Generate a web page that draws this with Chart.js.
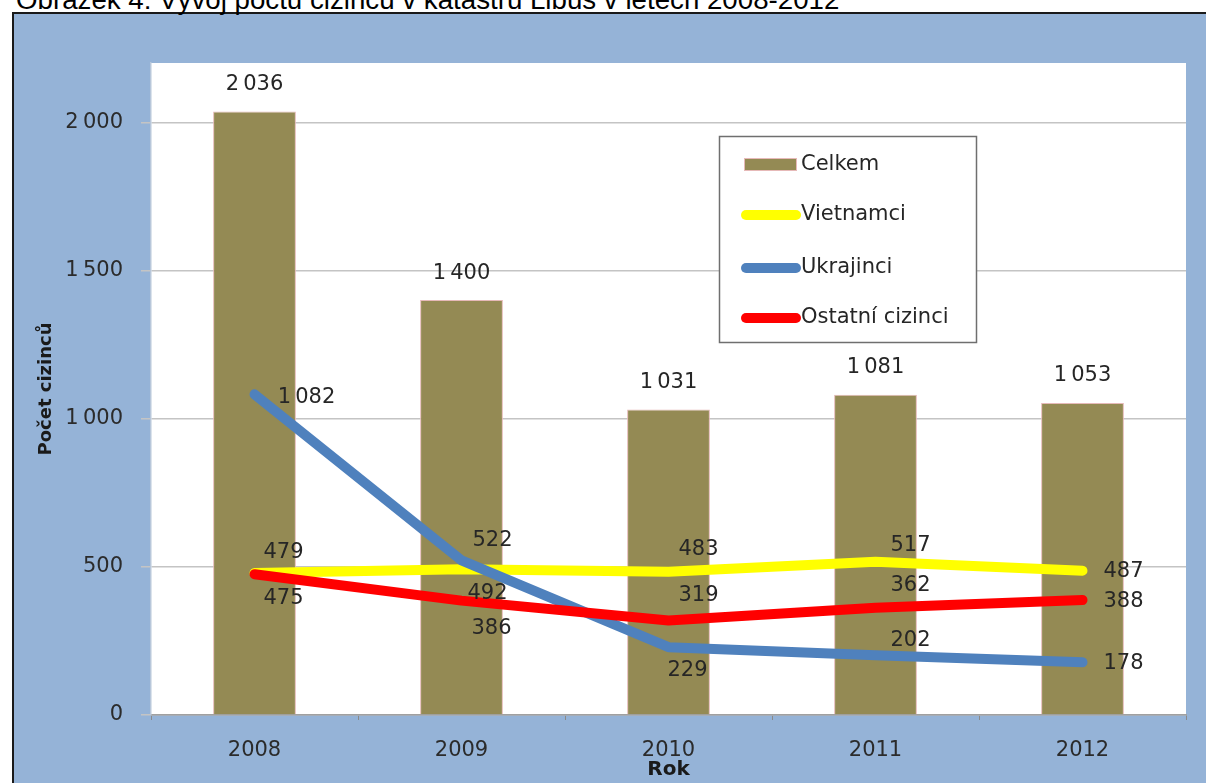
<!DOCTYPE html>
<html><head><meta charset="utf-8">
<script src="https://cdn.jsdelivr.net/npm/chart.js@4/dist/chart.umd.min.js"></script>
<style>
html,body{margin:0;padding:0;background:#fff;overflow:hidden;}
#wrap{position:relative;width:1206px;height:783px;overflow:hidden;}
#frame{position:absolute;left:12px;top:12px;width:1220px;height:800px;border-left:2px solid #1a1a1a;border-top:2px solid #1a1a1a;background:#95b3d7;}
#cap{position:absolute;left:16px;top:-14px;font:27.7px "Liberation Sans",Arial,sans-serif;color:#000;line-height:28px;white-space:nowrap;}
canvas{position:absolute;left:0;top:0;}
</style></head>
<body><div id="wrap"><div id="frame"></div><div id="cap">Obrázek 4: Vývoj počtu cizinců v katastru Libuš v letech 2008-2012</div><canvas id="c" width="1206" height="783"></canvas></div>
<script>
const categories = ['2008', '2009', '2010', '2011', '2012'];
const celkem = [2036, 1400, 1031, 1081, 1053];
const vietnamci = [479, 492, 483, 517, 487];
const ukrajinci = [1082, 522, 229, 202, 178];
const ostatni = [475, 386, 319, 362, 388];
const yTicks = [0, 500, 1000, 1500, 2000];

const FONT = '"DejaVu Sans", sans-serif';
const fmt = v => { const s = String(v); return s.length > 3 ? s.slice(0, s.length - 3) + '\u2009' + s.slice(-3) : s; };

// label placement (style only), offsets in px relative to the point
const labelOffsets = {
  'Vietnamci': [[29, -20], [26, 24], [30, -22], [35, -16], [41, 1]],
  'Ukrajinci': [[52, 3], [31, -20], [19, 23], [35, -15], [41, 1]],
  'Ostatní cizinci': [[29, 24], [30, 28], [30, -25], [35, -22], [41, 2]]
};

const plotBg = {
  id: 'plotBg',
  beforeDraw(chart) {
    const a = chart.chartArea, ctx = chart.ctx;
    ctx.save(); ctx.fillStyle = '#ffffff';
    ctx.fillRect(a.left, a.top, a.right - a.left, a.bottom - a.top);
    ctx.restore();
  }
};

const valueLabels = {
  id: 'valueLabels',
  afterDatasetsDraw(chart) {
    const ctx = chart.ctx; ctx.save();
    ctx.font = '21px ' + FONT; ctx.fillStyle = '#262626';
    ctx.textAlign = 'center'; ctx.textBaseline = 'middle';
    chart.data.datasets.forEach((ds, i) => {
      const meta = chart.getDatasetMeta(i);
      meta.data.forEach((el, j) => {
        let x = el.x, y = el.y;
        if (ds.type === 'bar') { y -= 27; }
        else { const o = labelOffsets[ds.label][j]; x += o[0]; y += o[1]; }
        ctx.fillText(fmt(ds.data[j]), x, y);
      });
    });
    ctx.restore();
  }
};

const boxLegend = {
  id: 'boxLegend',
  afterDraw(chart) {
    const ctx = chart.ctx; ctx.save();
    ctx.fillStyle = '#ffffff'; ctx.fillRect(720, 137, 256, 205);
    ctx.strokeStyle = '#6f6f6f'; ctx.lineWidth = 1.5; ctx.strokeRect(719.5, 136.5, 257, 206);
    const ys = [164.5, 215, 268, 318];
    ctx.font = '21px ' + FONT; ctx.textBaseline = 'middle'; ctx.textAlign = 'left';
    chart.data.datasets.forEach((ds, i) => {
      const y = ys[i];
      if (ds.type === 'bar') {
        ctx.fillStyle = ds.backgroundColor; ctx.fillRect(744, y - 6.5, 53, 13);
        ctx.strokeStyle = ds.borderColor; ctx.lineWidth = 1; ctx.strokeRect(744.5, y - 6, 52, 12);
      } else {
        ctx.strokeStyle = ds.borderColor; ctx.lineWidth = 10; ctx.lineCap = 'round';
        ctx.beginPath(); ctx.moveTo(746, y); ctx.lineTo(796, y); ctx.stroke();
      }
      ctx.fillStyle = '#262626';
      ctx.fillText(ds.label, 801, y);
    });
    ctx.restore();
  }
};

const lineDs = (label, data, color, order) => ({
  type: 'line', label, data, borderColor: color, backgroundColor: color,
  borderWidth: 10, pointRadius: 0, tension: 0, borderCapStyle: 'round', borderJoinStyle: 'round', order
});

new Chart(document.getElementById('c'), {
  data: {
    labels: categories,
    datasets: [
      { type: 'bar', label: 'Celkem', data: celkem, backgroundColor: '#948a54', borderColor: '#e6b9b8',
        borderWidth: 1, barPercentage: 0.4, categoryPercentage: 1, order: 4 },
      lineDs('Vietnamci', vietnamci, '#ffff00', 3),
      lineDs('Ukrajinci', ukrajinci, '#4f81bd', 2),
      lineDs('Ostatní cizinci', ostatni, '#ff0000', 1)
    ]
  },
  options: {
    responsive: false, animation: false, devicePixelRatio: 1,
    layout: { padding: { left: 36, top: 63, right: 20, bottom: 1 } },
    plugins: { legend: { display: false }, tooltip: { enabled: false } },
    scales: {
      x: {
        type: 'category', offset: true,
        grid: { display: true, drawOnChartArea: false, offset: true, tickLength: 5, color: '#8a8a8a' },
        border: { color: '#a0a0a0', width: 1.5 },
        ticks: { font: { family: FONT, size: 21 }, color: '#2b2b2b', padding: 18 },
        title: { display: true, text: 'Rok', font: { family: FONT, size: 20, weight: 'bold' }, color: '#1a1a1a', padding: 0 },
        afterFit(s) { s.height = 67; }
      },
      y: {
        min: 0, max: 2200,
        afterBuildTicks(s) { s.ticks = yTicks.map(v => ({ value: v })); },
        grid: { color: '#c4c4c4', lineWidth: 1.5, tickLength: 10 },
        border: { color: '#b8c7da', width: 1.5 },
        ticks: { font: { family: FONT, size: 21 }, color: '#2b2b2b', padding: 18, callback: v => fmt(v) },
        title: { display: true, text: 'Počet cizinců', font: { family: FONT, size: 18, weight: 'bold' }, color: '#1a1a1a', padding: 0 },
        afterFit(s) { s.width = 115; }
      }
    }
  },
  plugins: [plotBg, valueLabels, boxLegend]
});
</script>
</body></html>
